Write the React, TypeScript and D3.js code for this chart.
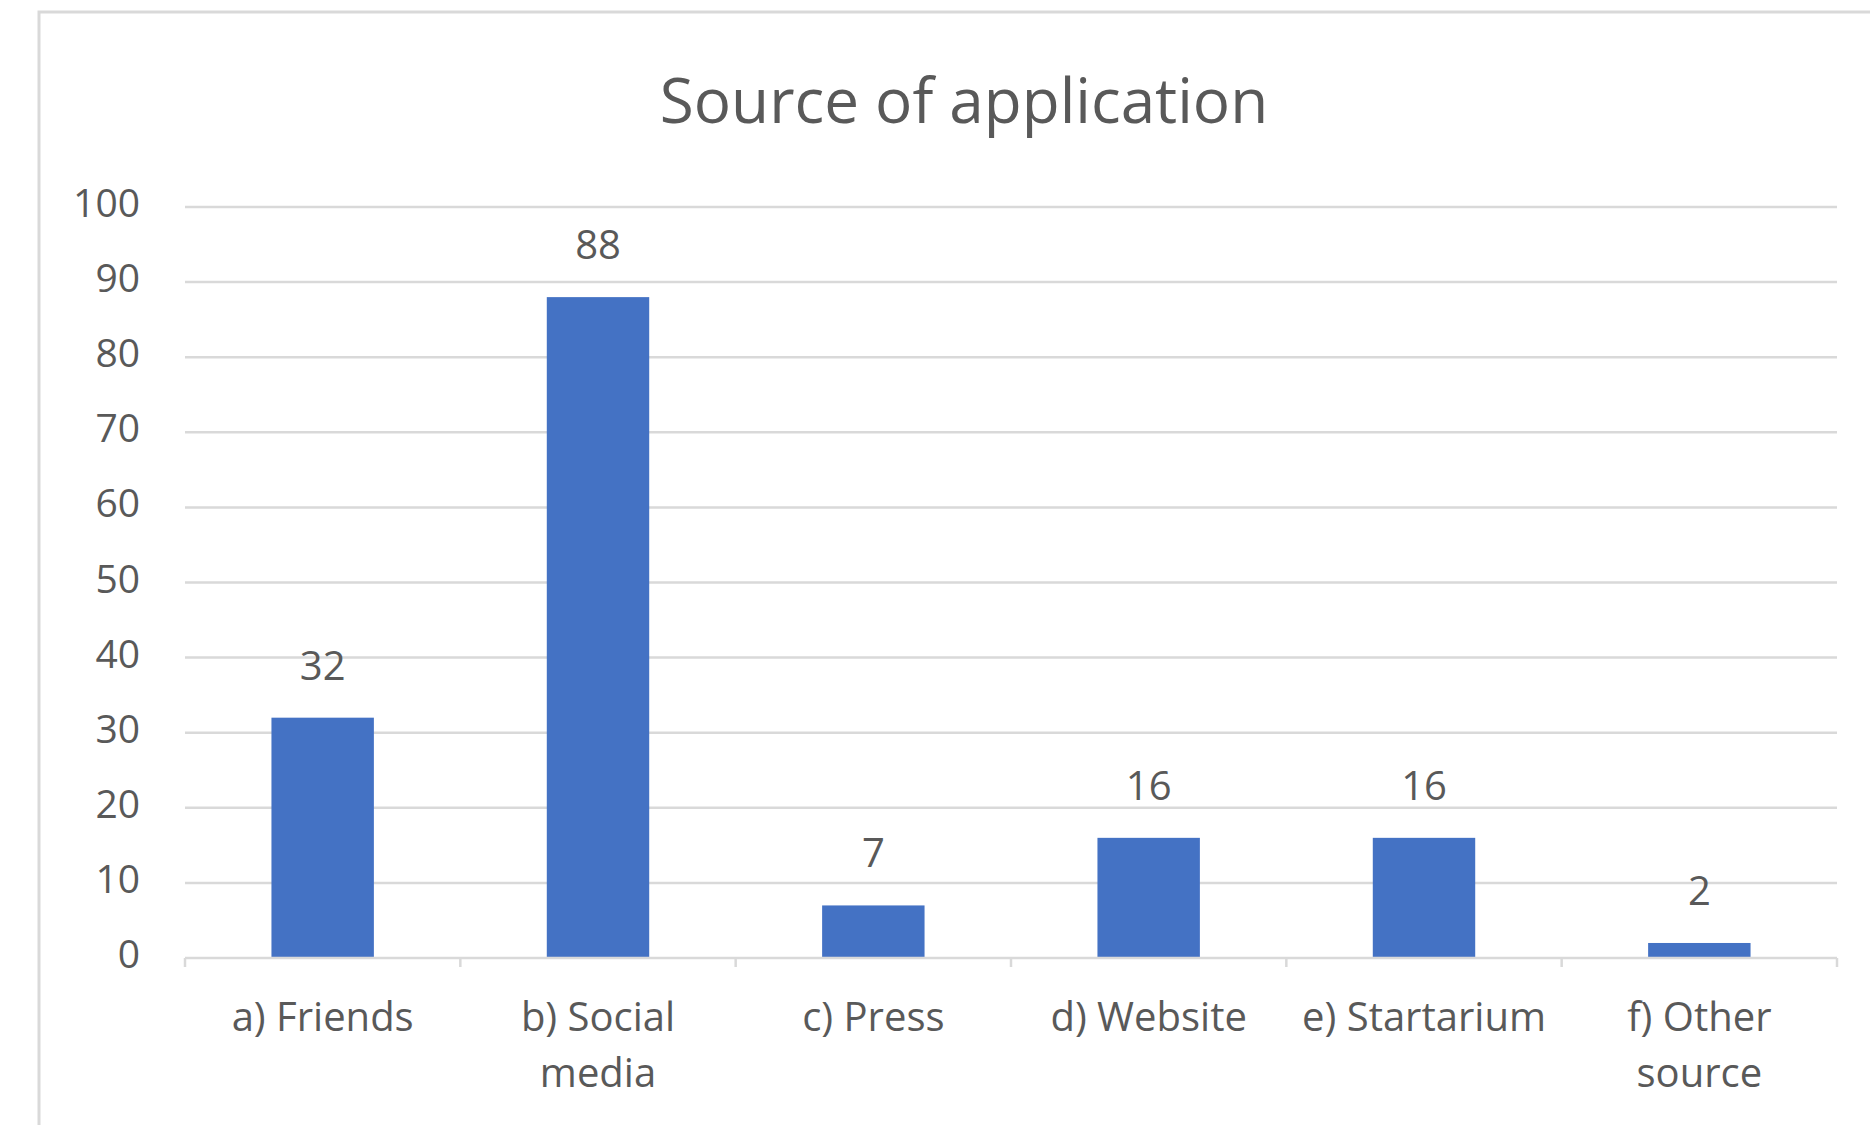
import React from "react";
import * as d3 from "d3";

const categories: string[] = [
  "a) Friends",
  "b) Social\nmedia",
  "c) Press",
  "d) Website",
  "e) Startarium",
  "f) Other\nsource",
];
const values: number[] = [32, 88, 7, 16, 16, 2];
const yTicks: number[] = [0, 10, 20, 30, 40, 50, 60, 70, 80, 90, 100];
const title = "Source of application";

const W = 1870;
const H = 1125;
const plotLeft = 185;
const plotRight = 1837;
const yTop = 207;
const yBottom = 958;
const FONT = "'Open Sans', 'Noto Sans', sans-serif";
const TEXT = "#595959";
const GRID = "#d9d9d9";
const BAR = "#4472C4";

export default function App() {
  const x = d3
    .scaleBand<string>()
    .domain(categories)
    .range([plotLeft, plotRight])
    .paddingInner(0.628)
    .paddingOuter(0.314);
  const y = d3.scaleLinear().domain([0, 100]).range([yBottom, yTop]);
  const step = x.step();
  const boundaries = d3.range(categories.length + 1).map((i) => plotLeft + i * step);

  return (
    <svg
      width={W}
      height={H}
      style={{ position: "absolute", left: 0, top: 0, background: "#fff" }}
      fontFamily={FONT}
    >
      <rect x={0} y={0} width={W} height={H} fill="#fff" />
      {/* chart frame (left and top edges visible) */}
      <rect x={39} y={12} width={W + 50} height={H + 50} fill="#fff" stroke={GRID} strokeWidth={3} />

      <text x={964} y={123} textAnchor="middle" fontSize={62} fill={TEXT}>
        {title}
      </text>

      {/* gridlines */}
      {yTicks.slice(1).map((t) => (
        <line key={t} x1={plotLeft} x2={plotRight} y1={y(t)} y2={y(t)} stroke={GRID} strokeWidth={2.5} />
      ))}

      {/* y tick labels */}
      {yTicks.map((t) => (
        <text key={t} x={140} y={y(t) + 10} textAnchor="end" fontSize={39} fill={TEXT}>
          {t}
        </text>
      ))}

      {/* bars */}
      {categories.map((c, i) => (
        <rect
          key={c}
          x={x(c)}
          y={y(values[i])}
          width={x.bandwidth()}
          height={y(0) - y(values[i])}
          fill={BAR}
        />
      ))}

      {/* x axis */}
      <line x1={plotLeft} x2={plotRight} y1={y(0)} y2={y(0)} stroke={GRID} strokeWidth={2.5} />
      {boundaries.map((bx, i) => (
        <line key={i} x1={bx} x2={bx} y1={y(0)} y2={y(0) + 9} stroke={GRID} strokeWidth={2.5} />
      ))}

      {/* data labels */}
      {categories.map((c, i) => (
        <text
          key={c}
          x={(x(c) as number) + x.bandwidth() / 2}
          y={y(values[i]) - 38}
          textAnchor="middle"
          fontSize={40}
          fill={TEXT}
        >
          {values[i]}
        </text>
      ))}

      {/* category labels */}
      {categories.map((c) => (
        <text key={c} textAnchor="middle" fontSize={40} fill={TEXT}>
          {c.split("\n").map((line, j) => (
            <tspan key={j} x={(x(c) as number) + x.bandwidth() / 2} y={1031 + j * 56}>
              {line}
            </tspan>
          ))}
        </text>
      ))}
    </svg>
  );
}
